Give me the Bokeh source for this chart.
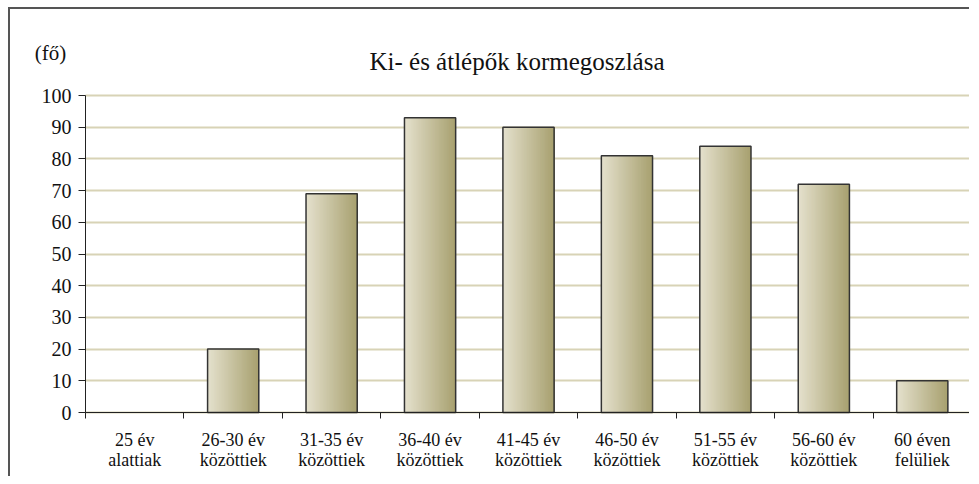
from bokeh.plotting import figure
from bokeh.models import FixedTicker, Label
from bokeh.embed import file_html
from bokeh.resources import INLINE

categories = ["25 év\nalattiak", "26-30 év\nközöttiek", "31-35 év\nközöttiek",
              "36-40 év\nközöttiek", "41-45 év\nközöttiek", "46-50 év\nközöttiek",
              "51-55 év\nközöttiek", "56-60 év\nközöttiek", "60 éven\nfelüliek"]
values = [0, 20, 69, 93, 90, 81, 84, 72, 10]
y_ticks = [0, 10, 20, 30, 40, 50, 60, 70, 80, 90, 100]
title_text = "Ki- és átlépők kormegoszlása"
unit_text = "(fő)"

FONT = "Liberation Serif"
n = len(categories)

# the frame covers the whole canvas; both axes are drawn inside it at 0
p = figure(width=961, height=469, x_range=(-0.762, n), y_range=(-20.82, 127.13),
           title=None, output_backend="svg", toolbar_location=None,
           min_border_left=0, min_border_right=0, min_border_top=0, min_border_bottom=0)
p.styles = {"border-top": "2px solid #555555", "border-left": "2px solid #555555",
            "margin-top": "7px", "margin-left": "8px"}
p.outline_line_color = None
p.background_fill_color = "white"
p.border_fill_color = "white"

# horizontal grid lines limited to the category span
p.xgrid.grid_line_color = None
grid = p.ygrid[0]
grid.ticker = FixedTicker(ticks=y_ticks)
grid.grid_line_color = "#d8d3b6"
grid.grid_line_width = 2
if "cross_bounds" in grid.properties():
    grid.cross_bounds = (0, n)
else:
    grid.grid_line_color = None
    p.segment(x0=[0] * len(y_ticks), x1=[n] * len(y_ticks), y0=y_ticks, y1=y_ticks,
              line_color="#d8d3b6", line_width=2)

# gradient bars: layered strips, each from its start to the bar's right edge
bar_w = 0.52
N = 40
c0 = (228, 224, 204)
c1 = (168, 161, 112)
L, R, T, B, C = [], [], [], [], []
for i, v in enumerate(values):
    if v <= 0:
        continue
    left = i + 0.5 - bar_w / 2
    right = i + 0.5 + bar_w / 2
    for k in range(N):
        t = k / (N - 1)
        col = tuple(int(round(c0[j] + (c1[j] - c0[j]) * t)) for j in range(3))
        L.append(left + k * bar_w / N)
        R.append(right)
        B.append(0)
        T.append(v)
        C.append("#%02x%02x%02x" % col)
p.quad(left=L, right=R, bottom=B, top=T, fill_color=C, line_color=None)

ol = [i + 0.5 - bar_w / 2 for i, v in enumerate(values) if v > 0]
orr = [i + 0.5 + bar_w / 2 for i, v in enumerate(values) if v > 0]
ot = [v for v in values if v > 0]
p.quad(left=ol, right=orr, bottom=[0] * len(ot), top=ot, fill_color=None,
       line_color="#333333", line_width=1.5)

# y axis at x = 0
yax = p.yaxis[0]
yax.fixed_location = 0
yax.bounds = (0, 100)
yax.ticker = FixedTicker(ticks=y_ticks)
yax.minor_tick_line_color = None
yax.major_tick_out = 7
yax.major_tick_in = 0
yax.axis_line_color = "#222222"
yax.major_tick_line_color = "#222222"
yax.major_label_text_font = FONT
yax.major_label_text_font_size = "20px"
yax.major_label_text_color = "#111111"
yax.major_label_standoff = 7

# x axis at y = 0
centers = [i + 0.5 for i in range(n)]
xax = p.xaxis[0]
xax.fixed_location = 0
xax.bounds = (0, n)
xax.ticker = FixedTicker(ticks=centers, minor_ticks=list(range(n + 1)))
xax.major_label_overrides = {c: lab for c, lab in zip(centers, categories)}
xax.major_tick_line_color = None
xax.minor_tick_line_color = "#222222"
xax.minor_tick_out = 6
xax.minor_tick_in = 0
xax.axis_line_color = "#222222"
xax.major_label_text_font = FONT
xax.major_label_text_font_size = "18px"
xax.major_label_text_line_height = 1.0
xax.major_label_text_color = "#111111"
xax.major_label_standoff = 11

# titles
p.add_layout(Label(x=4.383, y=110.7, text=title_text, text_font=FONT,
                   text_font_size="25px", text_align="center",
                   text_baseline="alphabetic", text_color="#111111"))
p.add_layout(Label(x=-0.355, y=113.3, text=unit_text, text_font=FONT,
                   text_font_size="21px", text_align="center",
                   text_baseline="alphabetic", text_color="#111111"))

open("out.html", "w").write(file_html(p, INLINE))
